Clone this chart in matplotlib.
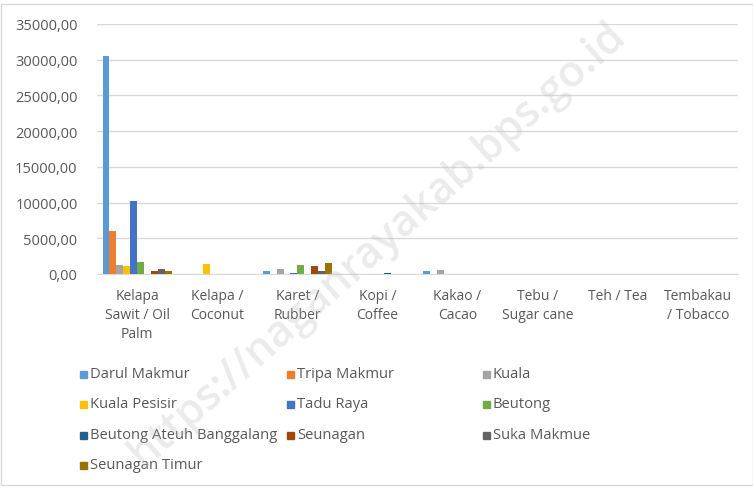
import matplotlib
matplotlib.use("Agg")
import matplotlib.pyplot as plt
import numpy as np
from matplotlib.patches import Rectangle

categories = ["Kelapa\nSawit / Oil\nPalm", "Kelapa /\nCoconut", "Karet /\nRubber", "Kopi /\nCoffee",
              "Kakao /\nCacao", "Tebu /\nSugar cane", "Teh / Tea", "Tembakau\n/ Tobacco"]
series_names = ["Darul Makmur", "Tripa Makmur", "Kuala", "Kuala Pesisir", "Tadu Raya", "Beutong",
                "Beutong Ateuh Banggalang", "Seunagan", "Suka Makmue", "Seunagan Timur"]
darul_makmur = [30500, 0, 420, 0, 460, 0, 0, 0]
tripa_makmur = [6000, 60, 0, 0, 0, 0, 0, 0]
kuala = [1300, 0, 640, 0, 600, 0, 0, 0]
kuala_pesisir = [1100, 1400, 0, 0, 0, 0, 0, 0]
tadu_raya = [10200, 0, 100, 0, 0, 0, 0, 0]
beutong = [1650, 0, 1200, 0, 0, 0, 0, 0]
beutong_ateuh = [0, 0, 0, 80, 0, 0, 0, 0]
seunagan = [380, 60, 1100, 0, 0, 0, 0, 0]
suka_makmue = [700, 0, 420, 0, 0, 0, 0, 0]
seunagan_timur = [470, 0, 1530, 0, 0, 0, 0, 0]
values = [darul_makmur, tripa_makmur, kuala, kuala_pesisir, tadu_raya, beutong,
          beutong_ateuh, seunagan, suka_makmue, seunagan_timur]
colors = ["#5B9BD5", "#ED7D31", "#A5A5A5", "#FFC000", "#4472C4", "#70AD47",
          "#255E91", "#9E480E", "#636363", "#997300"]
yticks = [0, 5000, 10000, 15000, 20000, 25000, 30000, 35000]

W, H = 753, 489
fig = plt.figure(figsize=(W / 100, H / 100), dpi=100)
FONT = "Open Sans"
TXT = "#595959"

ax = fig.add_axes([97 / W, 1 - 275 / H, 641 / W, 250 / H])
n = len(values)
bw = 0.086
x = np.arange(len(categories))
for i, (vals, c) in enumerate(zip(values, colors)):
    ax.bar(x + (i - (n - 1) / 2) * bw, vals, width=bw, color=c, zorder=3)

ax.set_xlim(-0.5, len(categories) - 0.5)
ax.set_ylim(0, 35000)
ax.set_yticks(yticks)
ax.set_yticklabels([f"{v:.2f}".replace(".", ",") for v in yticks], fontsize=10.5, color=TXT, family=FONT)
ax.yaxis.grid(True, color="#d9d9d9", lw=1, zorder=0)
ax.set_xticks(x)
ax.set_xticklabels(categories, fontsize=10, color=TXT, family=FONT, linespacing=1.35)
ax.tick_params(axis="both", length=0)
ax.tick_params(axis="x", pad=10)
ax.tick_params(axis="y", pad=14)
for s in ["top", "right", "left"]:
    ax.spines[s].set_visible(False)
ax.spines["bottom"].set_color("#d9d9d9")

# legend (manual, Excel-like layout)
leg_cols = [80, 287, 483]
leg_rows = [375, 405, 436, 466]
for i, (name, c) in enumerate(zip(series_names, colors)):
    r, col = divmod(i, 3)
    lx, ly = leg_cols[col], leg_rows[r]
    fig.patches.append(Rectangle((lx / W, 1 - (ly + 3.5) / H), 7 / W, 7 / H,
                                 transform=fig.transFigure, color=c, figure=fig))
    fig.text((lx + 10) / W, 1 - ly / H, name, fontsize=10.6, color=TXT, family=FONT,
             va="center", ha="left")

# outer frame
fig.patches.append(Rectangle((0.5 / W, 1 - 486 / H), (W - 1) / W, 481 / H, transform=fig.transFigure,
                             fill=False, edgecolor="#d9d9d9", lw=1, figure=fig))

# watermark
fig.text(377 / W, 1 - 245 / H, "https://naganrayakab.bps.go.id", fontsize=31, color="#bdbdbd",
         alpha=0.3, rotation=41.6, ha="center", va="center", family=FONT, fontweight="semibold", zorder=10)

fig.savefig("out.png", dpi=100)
